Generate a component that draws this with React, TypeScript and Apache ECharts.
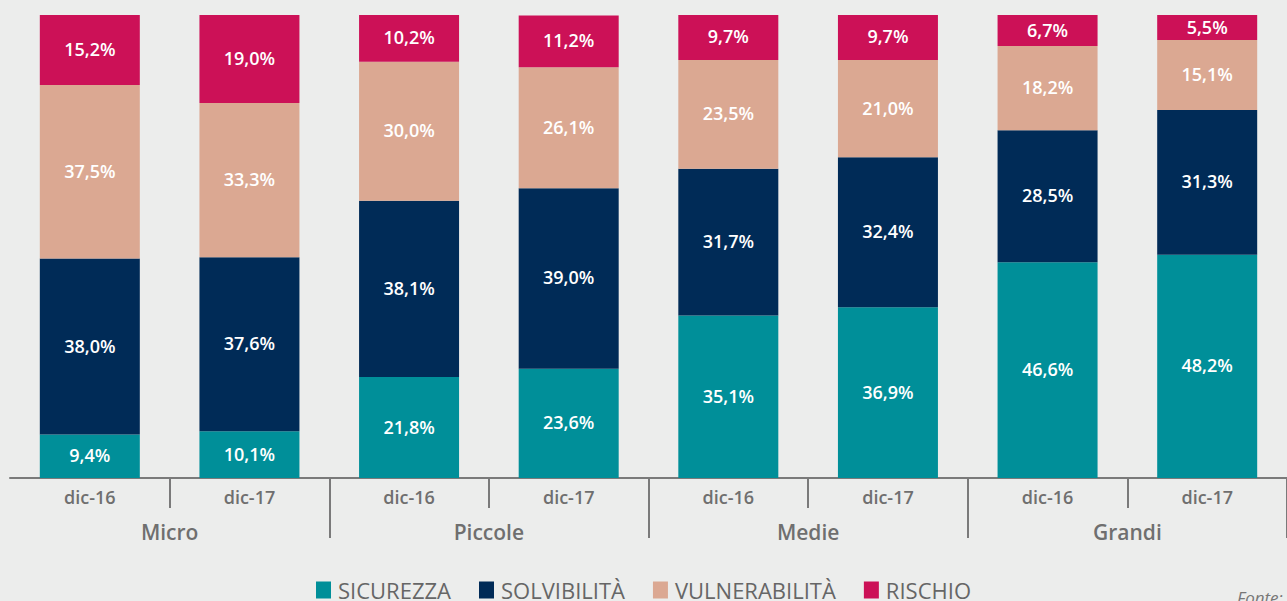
import React, { useEffect, useRef } from "react";
import * as echarts from "echarts";

const periods = ["dic-16", "dic-17", "dic-16", "dic-17", "dic-16", "dic-17", "dic-16", "dic-17"];
const groups = ["Micro", "Piccole", "Medie", "Grandi"];
const sicurezza = [9.4, 10.1, 21.8, 23.6, 35.1, 36.9, 46.6, 48.2];
const solvibilita = [38.0, 37.6, 38.1, 39.0, 31.7, 32.4, 28.5, 31.3];
const vulnerabilita = [37.5, 33.3, 30.0, 26.1, 23.5, 21.0, 18.2, 15.1];
const rischio = [15.2, 19.0, 10.2, 11.2, 9.7, 9.7, 6.7, 5.5];

const seriesDefs = [
  { name: "SICUREZZA", data: sicurezza, color: "#008F99" },
  { name: "SOLVIBILITÀ", data: solvibilita, color: "#002B57" },
  { name: "VULNERABILITÀ", data: vulnerabilita, color: "#DBA892" },
  { name: "RISCHIO", data: rischio, color: "#CC1157" },
];

const FONT = "'Open Sans', 'Noto Sans', sans-serif";

export default function App() {
  const ref = useRef<HTMLDivElement>(null);
  useEffect(() => {
    if (!ref.current) return;
    const chart = echarts.init(ref.current, null, { renderer: "svg" });
    chart.setOption({
      animation: false,
      backgroundColor: "#ECEDEC",
      textStyle: { fontFamily: FONT },
      grid: { left: 10, right: -1, top: 15, bottom: 123, containLabel: false },
      legend: {
        data: seriesDefs.map((s) => s.name),
        left: "center",
        top: 574,
        itemWidth: 15,
        itemHeight: 17,
        itemGap: 28,
        icon: "rect",
        textStyle: { fontFamily: FONT, fontSize: 22, color: "#666666", padding: [0, 0, 0, 2] },
      },
      xAxis: [
        {
          type: "category",
          data: periods,
          position: "bottom",
          axisLine: { show: true, lineStyle: { color: "#7A7A7A", width: 2 } },
          axisTick: {
            show: true,
            length: 30,
            interval: (index: number) => index % 2 === 1,
            lineStyle: { color: "#7A7A7A", width: 2 },
          },
          axisLabel: {
            interval: 0,
            margin: 10,
            fontSize: 18,
            fontWeight: 600,
            color: "#6F6F6F",
            fontFamily: FONT,
          },
        },
        {
          type: "category",
          data: groups,
          position: "bottom",
          offset: 0,
          axisLine: { show: false },
          axisTick: {
            show: true,
            length: 60,
            interval: (index: number) => index >= 1,
            lineStyle: { color: "#7A7A7A", width: 2 },
          },
          axisLabel: {
            interval: 0,
            margin: 43,
            fontSize: 21,
            fontWeight: 600,
            color: "#6F6F6F",
            fontFamily: FONT,
          },
        },
      ],
      yAxis: {
        type: "value",
        min: 0,
        max: 100,
        show: false,
        splitLine: { show: false },
      },
      series: seriesDefs.map((s) => ({
        name: s.name,
        type: "bar",
        stack: "total",
        xAxisIndex: 0,
        barWidth: 100,
        data: s.data,
        itemStyle: { color: s.color },
        label: {
          show: true,
          position: "inside",
          offset: [0, -1],
          color: "#FFFFFF",
          fontSize: 18,
          fontWeight: 600,
          fontFamily: FONT,
          formatter: (p: any) => `${Number(p.value).toFixed(1).replace(".", ",")}%`,
        },
      })),
      graphic: [
        {
          type: "text",
          left: 1237,
          top: 589,
          style: {
            text: "Fonte:",
            fontSize: 17,
            fontStyle: "italic",
            fontFamily: FONT,
            fill: "#777777",
          },
        },
      ],
    });
    return () => chart.dispose();
  }, []);
  return (
    <div
      ref={ref}
      style={{ position: "fixed", left: 0, top: 0, width: 1287, height: 601 }}
    />
  );
}
